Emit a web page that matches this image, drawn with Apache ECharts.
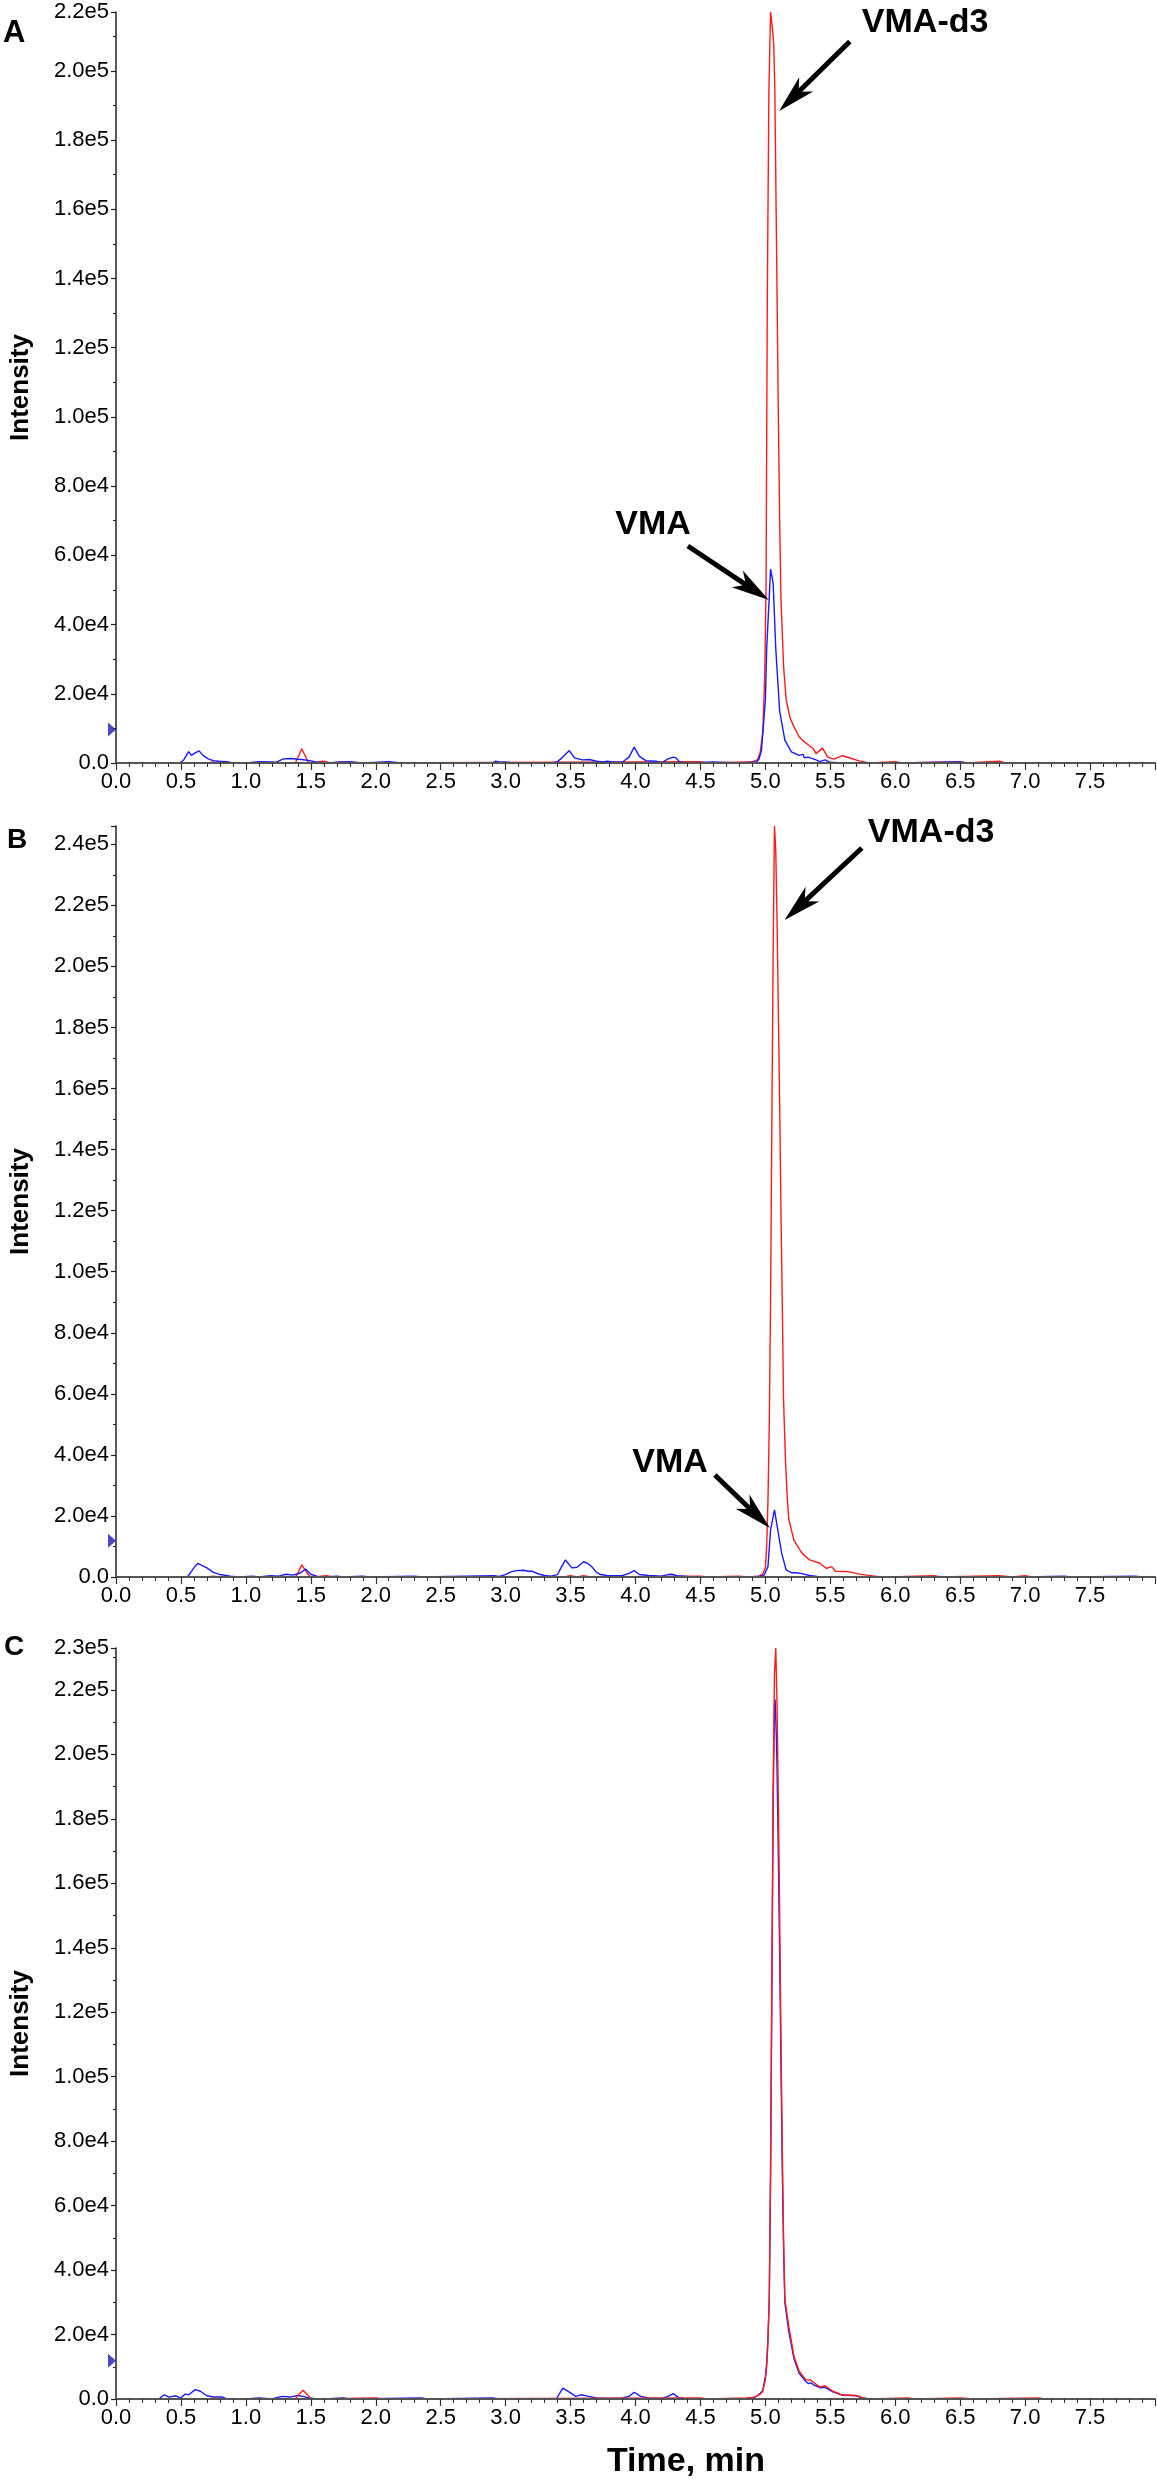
<!DOCTYPE html>
<html><head><meta charset="utf-8">
<script src="https://cdn.jsdelivr.net/npm/echarts@6/dist/echarts.min.js"></script>
<style>html,body{margin:0;padding:0;background:#fff}#chart{width:1157px;height:2481px}</style>
</head><body><div id="chart"></div>
<script>
// ---------- data (time in min, intensity in cps) ----------
const xTicks = { min: 0, max: 8, interval: 0.5 };
const yMax = [217000, 246000, 233000];
const thresholds = [9700, 11900, 11900];

const aRed = [[0,0],[0.7,0],[0.75,300],[0.8,0],[0.85,300],[0.9,0],[1.38,0],[1.40,1500],[1.43,4100],[1.46,1800],[1.48,300],[1.5,0],[1.6,500],[1.65,0],[1.75,400],[1.8,0],[4.5,400],[4.55,0],[4.85,300],[4.9,300],[4.94,1000],[4.96,3000],[4.98,9000],[4.995,25000],[5.005,50000],[5.015,135000],[5.027,194000],[5.04,217000],[5.055,212000],[5.065,207000],[5.073,194000],[5.09,135000],[5.10,100000],[5.11,70000],[5.12,47500],[5.14,28000],[5.16,18300],[5.19,13000],[5.22,10500],[5.26,7600],[5.30,6100],[5.34,5000],[5.37,4100],[5.39,2700],[5.44,4300],[5.48,1700],[5.53,1100],[5.59,2100],[5.64,1600],[5.72,600],[5.80,0],[6.0,400],[6.05,0],[6.5,400],[6.55,0],[6.8,500],[6.85,0],[7.9,0]];
const aBlue = [[0,0],[0.49,0],[0.52,800],[0.55,2700],[0.56,3300],[0.58,2200],[0.61,2900],[0.64,3500],[0.67,2200],[0.71,1200],[0.75,700],[0.79,500],[0.85,400],[0.9,0],[1.0,0],[1.1,400],[1.2,300],[1.23,200],[1.29,1200],[1.35,1300],[1.40,1100],[1.43,1000],[1.49,700],[1.55,200],[1.6,0],[1.8,400],[1.9,0],[2.1,400],[2.2,0],[2.9,0],[2.92,500],[2.96,200],[3.0,300],[3.05,0],[3.35,0],[3.40,400],[3.44,1700],[3.49,3600],[3.53,1500],[3.59,900],[3.645,1000],[3.70,500],[3.75,300],[3.78,500],[3.84,200],[3.90,300],[3.95,1700],[3.99,4600],[4.03,1900],[4.08,700],[4.16,500],[4.20,0],[4.25,1200],[4.29,1700],[4.31,1500],[4.34,300],[4.4,0],[4.6,300],[4.8,0],[4.93,300],[4.95,1000],[4.97,3700],[5.00,18000],[5.01,33000],[5.03,48000],[5.04,56000],[5.06,52000],[5.08,33000],[5.11,15000],[5.15,6600],[5.20,3200],[5.26,2200],[5.29,2500],[5.30,1500],[5.33,1700],[5.39,900],[5.42,400],[5.46,900],[5.50,200],[5.6,0],[6.0,0],[6.5,300],[6.55,0],[7.9,0]];

const bRed = [[0,0],[0.7,0],[0.75,300],[0.8,0],[0.85,300],[0.9,0],[1.38,0],[1.40,1200],[1.43,4000],[1.46,2000],[1.49,300],[1.52,0],[1.62,400],[1.67,0],[3.45,0],[3.5,400],[3.55,0],[3.6,400],[3.65,0],[4.5,300],[4.55,0],[4.8,300],[4.85,0],[4.95,300],[4.98,1000],[5.00,3000],[5.01,10000],[5.02,25000],[5.03,50000],[5.04,90000],[5.05,150000],[5.06,205000],[5.07,246000],[5.08,238000],[5.09,215000],[5.10,185000],[5.11,155000],[5.12,120000],[5.13,90000],[5.14,58000],[5.155,38000],[5.17,25000],[5.18,19000],[5.22,12000],[5.28,7900],[5.34,5600],[5.37,5200],[5.42,4500],[5.47,2800],[5.51,3400],[5.54,1900],[5.62,1800],[5.67,1500],[5.70,1100],[5.78,600],[5.86,200],[5.95,0],[6.3,400],[6.35,0],[6.8,400],[6.9,0],[7.0,400],[7.05,0],[7.9,0]];
const bBlue = [[0,0],[0.55,0],[0.565,300],[0.60,3000],[0.63,4500],[0.66,3800],[0.70,3000],[0.75,1500],[0.80,800],[0.88,300],[0.95,0],[1.05,300],[1.1,0],[1.19,400],[1.25,300],[1.31,900],[1.36,600],[1.42,1300],[1.46,2600],[1.50,900],[1.55,200],[1.6,0],[1.7,300],[1.75,0],[1.9,300],[1.95,0],[2.3,300],[2.35,0],[2.91,400],[2.95,200],[3.00,800],[3.03,1500],[3.08,2100],[3.14,2200],[3.17,1900],[3.20,1900],[3.26,900],[3.30,500],[3.35,300],[3.40,800],[3.42,2500],[3.46,5600],[3.49,4000],[3.51,3000],[3.55,3200],[3.60,5000],[3.63,4500],[3.66,3500],[3.70,1500],[3.73,800],[3.78,500],[3.84,400],[3.90,500],[3.95,1200],[3.99,2100],[4.03,800],[4.1,500],[4.2,300],[4.25,800],[4.28,900],[4.32,400],[4.4,200],[4.5,0],[4.9,0],[4.96,300],[4.99,600],[5.02,3400],[5.04,15400],[5.07,22000],[5.10,14300],[5.125,7900],[5.16,2300],[5.20,1400],[5.24,1400],[5.28,1100],[5.34,500],[5.40,200],[5.5,0],[7.0,0],[7.3,300],[7.35,0],[7.85,300],[7.9,0]];

const cRed = [[0,0],[0.7,0],[0.75,300],[0.8,0],[1.38,0],[1.41,1500],[1.44,2700],[1.47,1500],[1.50,200],[1.55,0],[2.0,300],[2.05,0],[4.5,300],[4.55,0],[4.85,300],[4.9,500],[4.93,800],[4.96,1500],[4.98,2400],[5.00,6000],[5.01,10000],[5.02,18000],[5.03,31000],[5.04,70000],[5.05,130000],[5.06,190000],[5.07,225000],[5.08,233000],[5.09,215000],[5.10,185000],[5.11,150000],[5.12,112000],[5.13,78000],[5.14,50000],[5.15,31000],[5.18,22600],[5.22,13300],[5.26,8600],[5.31,6000],[5.35,5800],[5.42,3700],[5.46,4100],[5.52,2400],[5.59,1300],[5.70,1100],[5.75,300],[5.8,0],[6.1,300],[6.15,0],[6.5,300],[6.6,0],[7.1,300],[7.15,0],[7.9,0]];
const cBlue = [[0,0],[0.33,0],[0.37,1300],[0.41,600],[0.46,1000],[0.50,300],[0.53,1500],[0.56,1300],[0.61,2900],[0.65,2400],[0.70,1000],[0.76,600],[0.82,600],[0.85,100],[0.9,0],[1.0,0],[1.1,300],[1.2,0],[1.28,800],[1.34,600],[1.40,1100],[1.44,800],[1.47,500],[1.52,200],[1.6,0],[1.75,300],[1.8,0],[2.35,300],[2.4,0],[2.9,300],[2.95,0],[3.39,0],[3.44,3400],[3.50,1900],[3.54,800],[3.58,1300],[3.64,800],[3.70,300],[3.8,200],[3.90,300],[3.95,800],[3.99,2100],[4.04,800],[4.1,300],[4.2,200],[4.25,800],[4.29,1650],[4.33,500],[4.4,0],[4.85,0],[4.90,300],[4.93,800],[4.96,1800],[4.98,2600],[5.00,7000],[5.01,11000],[5.02,19000],[5.03,31000],[5.04,70000],[5.05,128000],[5.06,185000],[5.07,215000],[5.075,217000],[5.085,205000],[5.09,195000],[5.10,168000],[5.11,138000],[5.12,104000],[5.13,72000],[5.14,47000],[5.15,30000],[5.18,21000],[5.22,12500],[5.26,8000],[5.31,5500],[5.33,4800],[5.35,5000],[5.38,4200],[5.42,3500],[5.46,3600],[5.52,2200],[5.59,1200],[5.70,1000],[5.75,300],[5.8,0],[7.9,0]];

// annotations: [text, time, intensity, align]
const labelsA = [['VMA-d3', 5.743, 214000, 'left'], ['VMA', 4.426, 68800, 'right']];
const labelsB = [['VMA-d3', 5.789, 243900, 'left'], ['VMA', 4.557, 37500, 'right']];
// arrows: [tailTime, tailIntensity, tipTime, tipIntensity]
const arrowsA = [[5.650, 208500, 5.106, 188400], [4.403, 62700, 5.027, 47100]];
const arrowsB = [[5.743, 238800, 5.148, 215200], [4.611, 33400, 5.035, 16050]];

// ---------- chart ----------
const FONT = '"Liberation Sans", Arial, Helvetica, sans-serif';
const RED = '#ff1a1a', BLUE = '#1a1aff';
const gridTops = [12, 826, 1648];
const GRID_H = 751;

const chart = echarts.init(document.getElementById('chart'), null, { renderer: 'canvas' });

function fmtY(v) { return v === 0 ? '0.0' : v.toExponential(1).replace('e+', 'e'); }

const grids = gridTops.map(t => ({ left: 116, top: t, width: 1039, height: GRID_H, containLabel: false }));
const xAxes = gridTops.map((t, i) => ({
  type: 'value', gridIndex: i, min: xTicks.min, max: xTicks.max, interval: xTicks.interval, z: 5,
  axisLine: { show: true, onZero: false, lineStyle: { color: '#555', width: 2 } },
  axisTick: { show: true, length: 7, lineStyle: { color: '#333', width: 1.2 } },
  minorTick: { show: true, splitNumber: 5, length: 4, lineStyle: { color: '#333', width: 1 } },
  splitLine: { show: false },
  axisLabel: { show: true, margin: 8, fontSize: 22, color: '#000', fontFamily: FONT,
    showMaxLabel: false, formatter: v => v.toFixed(1) }
}));
const yAxes = gridTops.map((t, i) => ({
  type: 'value', gridIndex: i, min: 0, max: yMax[i], interval: 20000, z: 5,
  name: 'Intensity', nameLocation: 'middle', nameGap: 82, nameRotate: 90,
  nameTextStyle: { fontSize: 26, fontWeight: 'bold', color: '#000', fontFamily: FONT },
  axisLine: { show: true, lineStyle: { color: '#222', width: 1.5 } },
  axisTick: { show: true, length: 5, lineStyle: { color: '#222', width: 1.2 } },
  minorTick: { show: true, splitNumber: 2, length: 3, lineStyle: { color: '#222', width: 1 } },
  splitLine: { show: false },
  axisLabel: { show: true, margin: 7, fontSize: 22, color: '#000', fontFamily: FONT,
    showMaxLabel: i !== 1, formatter: fmtY }
}));

function lineSeries(data, color, i, z) {
  return { type: 'line', xAxisIndex: i, yAxisIndex: i, data: data, showSymbol: false, symbol: 'none',
    smooth: false, z: z, lineStyle: { color: color, width: 1.4 }, animation: false, silent: true };
}
function thresholdSeries(i) {
  return { type: 'scatter', xAxisIndex: i, yAxisIndex: i, data: [[0, thresholds[i]]], clip: false,
    symbol: 'triangle', symbolSize: [14, 8], symbolRotate: -90, symbolOffset: [-4, 0], z: 6,
    itemStyle: { color: '#1c1cb4' }, animation: false, silent: true };
}
function arrowSeries(arr, i) {
  return { type: 'custom', xAxisIndex: i, yAxisIndex: i, data: arr, clip: false, z: 8,
    encode: { x: [0, 2], y: [1, 3] }, animation: false, silent: true,
    renderItem: function (params, api) {
      const p1 = api.coord([api.value(0), api.value(1)]);
      const p2 = api.coord([api.value(2), api.value(3)]);
      const dx = p2[0] - p1[0], dy = p2[1] - p1[1], len = Math.hypot(dx, dy);
      const ux = dx / len, uy = dy / len, nx = -uy, ny = ux;
      const L = 38, W = 10;
      const bx = p2[0] - ux * L, by = p2[1] - uy * L;
      const notch = [p2[0] - ux * L * 0.72, p2[1] - uy * L * 0.72];
      return { type: 'group', children: [
        { type: 'line', shape: { x1: p1[0], y1: p1[1], x2: notch[0], y2: notch[1] }, style: { stroke: '#000', lineWidth: 5 } },
        { type: 'polygon', shape: { points: [[p2[0], p2[1]], [bx + nx * W, by + ny * W], notch, [bx - nx * W, by - ny * W]] }, style: { fill: '#000' } }
      ] };
    } };
}
function labelSeries(labels, i) {
  return { type: 'custom', xAxisIndex: i, yAxisIndex: i, data: labels.map(l => [l[1], l[2]]), clip: false, z: 8,
    encode: { x: 0, y: 1 }, animation: false, silent: true,
    renderItem: function (params, api) {
      const p = api.coord([api.value(0), api.value(1)]);
      const l = labels[params.dataIndex];
      return { type: 'text', x: p[0], y: p[1], style: { text: l[0], fill: '#000',
        font: 'bold 34px ' + FONT, align: l[3], verticalAlign: 'middle' } };
    } };
}

const series = [
  lineSeries(aRed, RED, 0, 2), lineSeries(aBlue, BLUE, 0, 3),
  lineSeries(bRed, RED, 1, 2), lineSeries(bBlue, BLUE, 1, 3),
  lineSeries(cBlue, BLUE, 2, 2), lineSeries(cRed, RED, 2, 3),
  thresholdSeries(0), thresholdSeries(1), thresholdSeries(2),
  arrowSeries(arrowsA, 0), arrowSeries(arrowsB, 1),
  labelSeries(labelsA, 0), labelSeries(labelsB, 1)
];

const panelLetters = [['A', 3, 37, 31], ['B', 7, 843, 28], ['C', 4, 1650, 28]];
const graphic = panelLetters.map(p => ({ type: 'text', left: p[1], top: p[2] - p[3] * 0.6,
  style: { text: p[0], font: 'bold ' + p[3] + 'px ' + FONT, fill: '#000' } }));
graphic.push({ type: 'text', x: 686, y: 2462, style: { text: 'Time, min', font: 'bold 34px ' + FONT,
  fill: '#000', align: 'center', verticalAlign: 'middle' } });

chart.setOption({
  backgroundColor: '#fff', animation: false,
  grid: grids, xAxis: xAxes, yAxis: yAxes, series: series, graphic: graphic
});
</script></body></html>
